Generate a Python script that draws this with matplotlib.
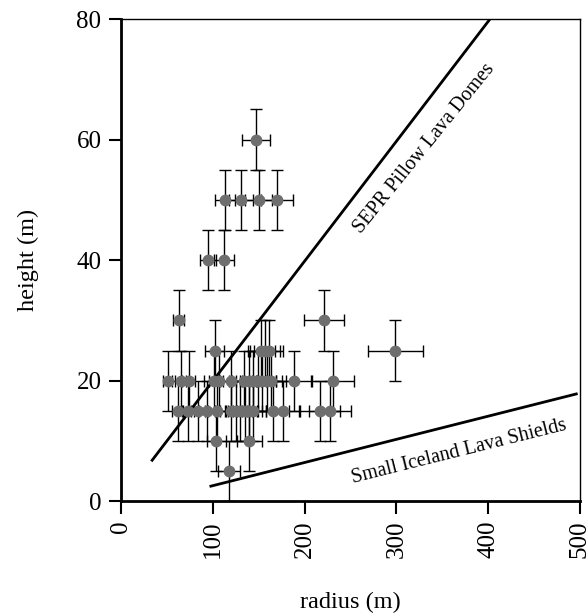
import matplotlib.pyplot as plt
import numpy as np

plt.rcParams['font.family'] = ['Liberation Serif', 'DejaVu Serif']

# lava dome radius / height (m)
radius = [147, 113, 131, 150, 170, 95, 112, 63, 221, 299,
          102, 153, 157, 161,
          51, 65, 74, 101, 107, 120, 134, 139, 144, 149, 154, 159, 164, 188, 231,
          62, 73, 84, 94, 105, 120, 125, 130, 135, 140, 144, 166, 176, 217, 228,
          104, 140, 118]
height = [60, 50, 50, 50, 50, 40, 40, 30, 30, 25,
          25, 25, 25, 25,
          20, 20, 20, 20, 20, 20, 20, 20, 20, 20, 20, 20, 20, 20, 20,
          15, 15, 15, 15, 15, 15, 15, 15, 15, 15, 15, 15, 15, 15, 15,
          10, 10, 5]
radius_err = [15, 11, 13, 15, 17, 9, 11, 6, 22, 30,
              10, 15, 16, 16,
              5, 6, 7, 10, 11, 12, 13, 14, 14, 15, 15, 16, 16, 19, 23,
              6, 7, 8, 9, 10, 12, 12, 13, 13, 14, 14, 17, 18, 22, 23,
              10, 14, 12]
height_err = [5] * len(radius)

# trend lines
sepr_r = [34, 402]
sepr_h = [6.8, 80]
iceland_r = [98, 496]
iceland_h = [2.5, 17.8]

fig = plt.figure(figsize=(5.87, 6.15), dpi=100)
ax = fig.add_axes([0.206, 0.185, 0.782, 0.784])

ax.plot(sepr_r, sepr_h, color='black', lw=2)
ax.plot(iceland_r, iceland_h, color='black', lw=2)

ax.errorbar(radius, height, xerr=radius_err, yerr=height_err, fmt='o',
            color='#6e6e6e', ms=7.5, ecolor='black', elinewidth=1,
            capsize=4, capthick=1)

ax.text(331, 58.5, 'SEPR Pillow Lava Domes', rotation=51, fontsize=14.5,
        ha='center', va='center', rotation_mode='anchor')
ax.text(368, 8.2, 'Small Iceland Lava Shields', rotation=14, fontsize=14.5,
        ha='center', va='center', rotation_mode='anchor')

ax.set_xlim(0, 500)
ax.set_ylim(0, 80)
ax.set_xticks([0, 100, 200, 300, 400, 500])
ax.set_yticks([0, 20, 40, 60, 80])
ax.tick_params(direction='out', length=9, width=1.5, labelsize=18, pad=5)
plt.setp(ax.get_xticklabels(), rotation=90)
ax.spines['left'].set_linewidth(2)
ax.spines['bottom'].set_linewidth(2)
ax.spines['top'].set_linewidth(1)
ax.spines['right'].set_linewidth(1)

ax.set_xlabel('radius (m)', fontsize=17.5, labelpad=24)
ax.set_ylabel('height (m)', fontsize=17.5, labelpad=27)

plt.savefig('out.png')
